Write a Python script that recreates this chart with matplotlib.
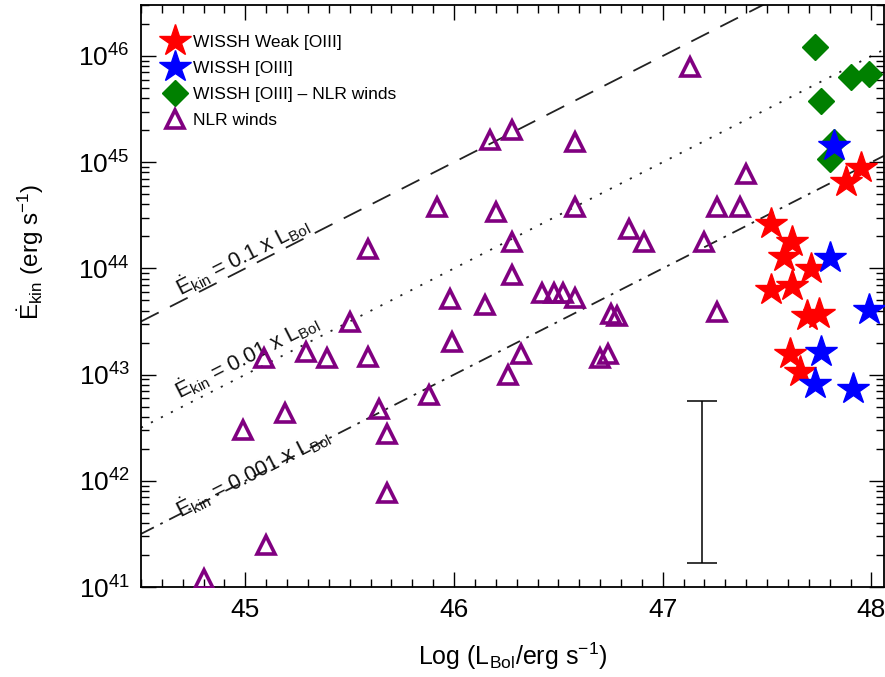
import numpy as np
import matplotlib
matplotlib.use("Agg")
import matplotlib.pyplot as plt
from matplotlib.ticker import MultipleLocator, LogLocator, NullFormatter

plt.rcParams['font.family'] = ['Liberation Sans', 'DejaVu Sans']
plt.rcParams['mathtext.fontset'] = 'custom'
plt.rcParams['mathtext.rm'] = 'Liberation Sans'
plt.rcParams['mathtext.it'] = 'Liberation Sans:italic'
plt.rcParams['mathtext.bf'] = 'Liberation Sans:bold'
plt.rcParams['mathtext.default'] = 'regular'

# ---- data: log bolometric luminosity and log kinetic power (erg/s) ----
nlr_logl = [47.13, 46.17, 46.28, 46.58, 47.40, 45.92, 46.20, 46.58, 47.26, 47.37,
            46.84, 46.91, 47.20, 46.28, 45.59, 46.28, 45.98, 46.15, 46.42, 46.48,
            46.52, 46.58, 46.75, 46.78, 47.26, 45.50, 45.99, 46.32, 46.26, 46.70,
            46.74, 45.09, 45.29, 45.39, 45.59, 44.99, 45.19, 45.64, 45.68, 45.88,
            45.68, 45.10, 44.80]
nlr_logek = [45.90, 45.21, 45.30, 45.19, 44.89, 44.58, 44.53, 44.58, 44.58, 44.58,
             44.37, 44.25, 44.25, 44.25, 44.18, 43.94, 43.71, 43.66, 43.77, 43.77,
             43.77, 43.72, 43.57, 43.55, 43.59, 43.50, 43.31, 43.19, 43.00, 43.16,
             43.19, 43.16, 43.21, 43.16, 43.17, 42.48, 42.64, 42.68, 42.44, 42.81,
             41.89, 41.40, 41.08]

weak_logl = [47.52, 47.62, 47.58, 47.71, 47.52, 47.62, 47.69, 47.75, 47.61, 47.66,
             47.88, 47.95]
weak_logek = [44.42, 44.25, 44.11, 43.99, 43.80, 43.83, 43.55, 43.57, 43.19, 43.02,
              44.81, 44.95]

oiii_logl = [47.80, 47.99, 47.76, 47.73, 47.91, 47.82]
oiii_logek = [44.10, 43.61, 43.21, 42.91, 42.86, 45.15]

nlrw_logl = [47.73, 47.90, 47.99, 47.76, 47.80, 47.82]
nlrw_logek = [46.08, 45.80, 45.83, 45.58, 45.03, 45.19]

# typical uncertainty on the kinetic power
err_logl = 47.19
err_logek_lo = 41.23
err_logek_hi = 42.75

# coupling efficiencies Ekin / LBol
efficiencies = [0.1, 0.01, 0.001]
eff_labels = ["0.1", "0.01", "0.001"]

PURPLE = '#800080'
RED = '#ff0000'
BLUE = '#0000ff'
GREEN = '#008000'

fig = plt.figure(figsize=(8.85, 6.77), dpi=100)
ax = fig.add_axes([0.1593, 0.1329, 0.8395, 0.8597])

xmin, xmax = 44.5, 48.06
ymin, ymax = 1e41, 10**46.48
ax.set_xlim(xmin, xmax)
ax.set_yscale('log')
ax.set_ylim(ymin, ymax)

# efficiency lines
styles = [(0, (11, 7)), (0, (1.2, 5)), (0, (8, 4, 1.5, 4))]
xx = np.array([xmin, xmax])
for eff, ls in zip(efficiencies, styles):
    ax.plot(xx, eff * 10**xx, color='#222222', lw=1.3, ls=ls, zorder=1)

# line annotations, rotated along the lines
p1 = ax.transData.transform((45.0, 1e43))
p2 = ax.transData.transform((46.0, 1e44))
ang = np.degrees(np.arctan2(p2[1] - p1[1], p2[0] - p1[0]))
label_pos = [(44.983, 44.117), (45.007, 43.175), (45.036, 42.083)]
for lab, (lx, ly) in zip(eff_labels, label_pos):
    ax.text(lx, 10**ly, r'$\dot{\rm E}_{\rm kin}$ = ' + lab + r' x L$_{\rm Bol}$',
            rotation=ang, rotation_mode='anchor', ha='center', va='center',
            fontsize=15.5, color='#111111', zorder=2)

# data points
nlr_x = np.array(nlr_logl)
nlr_y = 10**np.array(nlr_logek)
h_nlr, = ax.plot(nlr_x, nlr_y, ls='none', marker='^', ms=13, mfc='none',
                 mec=PURPLE, mew=2.6, zorder=3, label='NLR winds')
h_weak, = ax.plot(weak_logl, 10**np.array(weak_logek), ls='none', marker='*', ms=24,
                  color=RED, mec=RED, zorder=4, label='WISSH Weak [OIII]')
h_nlrw, = ax.plot(nlrw_logl, 10**np.array(nlrw_logek), ls='none', marker='D', ms=13.5,
                  color=GREEN, mec=GREEN, zorder=5, label='WISSH [OIII] \u2013 NLR winds')
h_oiii, = ax.plot(oiii_logl, 10**np.array(oiii_logek), ls='none', marker='*', ms=24,
                  color=BLUE, mec=BLUE, zorder=6, label='WISSH [OIII]')

# representative error bar
err_mid = 10**((err_logek_lo + err_logek_hi) / 2)
ax.errorbar([err_logl], [err_mid],
            yerr=[[err_mid - 10**err_logek_lo], [10**err_logek_hi - err_mid]],
            fmt='none', ecolor='black', elinewidth=1.1, capsize=10.5, capthick=1.1,
            zorder=3)

# axes styling
ax.xaxis.set_major_locator(MultipleLocator(1))
ax.xaxis.set_minor_locator(MultipleLocator(0.1))
ax.yaxis.set_major_locator(LogLocator(base=10, numticks=20))
ax.yaxis.set_minor_locator(LogLocator(base=10, subs=np.arange(2, 10), numticks=20))
ax.yaxis.set_minor_formatter(NullFormatter())
ax.tick_params(which='both', direction='in', top=True, right=True, labelsize=19,
               width=1.0, color='black')
ax.tick_params(which='major', length=11, pad=8)
ax.tick_params(which='minor', length=5.5)
for sp in ax.spines.values():
    sp.set_linewidth(1.3)

ax.set_xlabel(r'Log (L$_{\rm Bol}$/erg s$^{-1}$)', fontsize=18, labelpad=13)
ax.set_ylabel(r'$\dot{\rm E}_{\rm kin}$ (erg s$^{-1}$)', fontsize=17.5)
ax.yaxis.set_label_coords(-0.128, 0.575)

ax.legend(handles=[h_weak, h_oiii, h_nlrw, h_nlr], loc='upper left',
          bbox_to_anchor=(0.013, 0.972), frameon=False, fontsize=12.5,
          handlelength=1.2, handletextpad=0.45, labelspacing=0.62,
          borderaxespad=0.4, numpoints=1)

fig.savefig('out.png', dpi=100)
